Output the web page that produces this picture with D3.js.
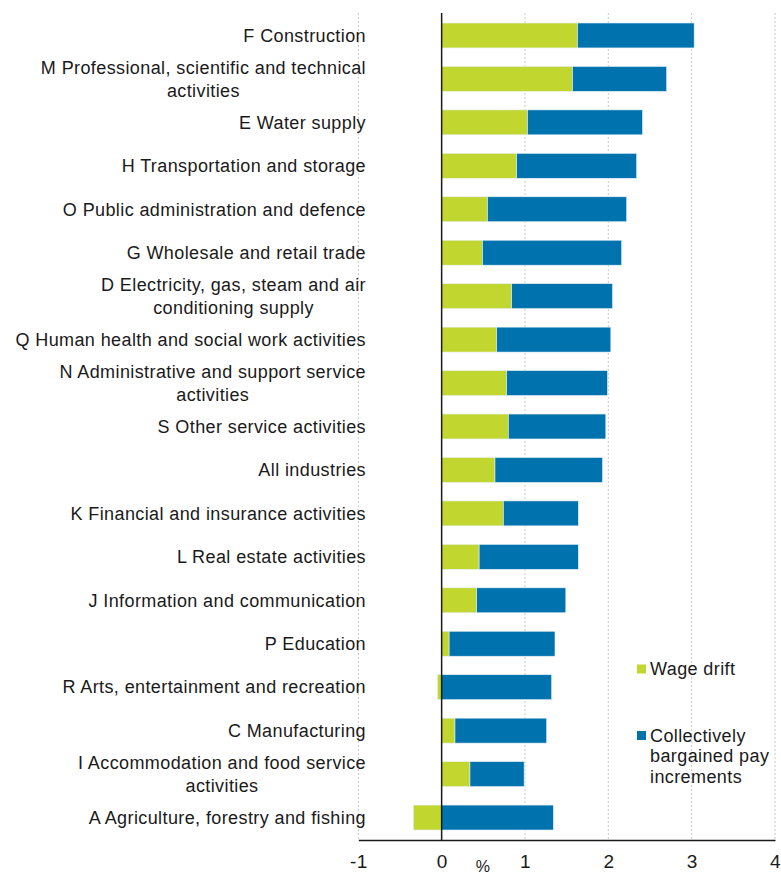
<!DOCTYPE html>
<html lang="en">
<head>
<meta charset="UTF-8">
<title>Wage drift and collectively bargained pay increments by industry</title>
<script src="https://d3js.org/d3.v7.min.js"></script>
<style>
    body { margin: 0; background: #fff; }
    text { font-family: "Liberation Sans", Arial, sans-serif; fill: #1a1a1a; }
    .cat { font-size: 18px; letter-spacing: 0.4px; }
    .legend { font-size: 18px; letter-spacing: 0.4px; }
    .axis text { font-size: 19px; letter-spacing: 0.3px; }
    .grid line { stroke: #c8c8c8; stroke-dasharray: 2,2; }
</style>
</head>
<body>
<svg width="781" height="877"></svg>
<script>
// industries, top to bottom ("\n" = line break in the label)
const categories = [
    "F Construction",
    "M Professional, scientific and technical\nactivities",
    "E Water supply",
    "H Transportation and storage",
    "O Public administration and defence",
    "G Wholesale and retail trade",
    "D Electricity, gas, steam and air\nconditioning supply",
    "Q Human health and social work activities",
    "N Administrative and support service\nactivities",
    "S Other service activities",
    "All industries",
    "K Financial and insurance activities",
    "L Real estate activities",
    "J Information and communication",
    "P Education",
    "R Arts, entertainment and recreation",
    "C Manufacturing",
    "I Accommodation and food service\nactivities",
    "A Agriculture, forestry and fishing"
];
const wageDrift = [1.63, 1.57, 1.03, 0.90, 0.55, 0.49, 0.84, 0.66, 0.78, 0.80,
                   0.64, 0.74, 0.45, 0.42, 0.09, -0.05, 0.16, 0.34, -0.34];
const bargained = [1.40, 1.13, 1.38, 1.44, 1.67, 1.67, 1.21, 1.37, 1.21, 1.17,
                   1.29, 0.90, 1.19, 1.07, 1.27, 1.32, 1.10, 0.65, 1.34];
const seriesNames = ["Wage drift", "Collectively\nbargained pay\nincrements"];
const xTicks = [-1, 0, 1, 2, 3, 4];

const colors = ["#c1d72f", "#0072ae"];

const svg = d3.select("svg");
const plotTop = 13, plotBottom = 840;

const x = d3.scaleLinear().domain([-1, 4]).range([358.3, 775]);
const y = d3.scaleBand().domain(categories).range([plotTop, plotBottom])
    .paddingInner(0.426).paddingOuter(0.23);

// gridlines
svg.append("g").attr("class", "grid")
    .selectAll("line").data(xTicks.filter(d => d !== 0)).join("line")
    .attr("x1", d => x(d)).attr("x2", d => x(d))
    .attr("y1", plotTop).attr("y2", plotBottom);

// stacked bars (negatives go left of zero)
const rows = categories.map((c, i) => ({ cat: c, w: wageDrift[i], b: bargained[i] }));
const stack = d3.stack().keys(["w", "b"]).offset(d3.stackOffsetDiverging);
const layers = stack(rows);

svg.append("g").selectAll("g").data(layers).join("g")
    .attr("fill", (d, i) => colors[i])
    .selectAll("rect").data(d => d).join("rect")
    .attr("x", d => x(Math.min(d[0], d[1])))
    .attr("width", d => Math.abs(x(d[1]) - x(d[0])))
    .attr("y", d => y(d.data.cat))
    .attr("height", y.bandwidth())
    .attr("stroke", "#e6f0f7").attr("stroke-width", 0.6);

// zero line
svg.append("line")
    .attr("x1", x(0)).attr("x2", x(0)).attr("y1", plotTop).attr("y2", plotBottom)
    .attr("stroke", "#1a1a1a").attr("stroke-width", 1.5);

// bottom axis
const axis = svg.append("g").attr("class", "axis")
    .attr("transform", `translate(0,${plotBottom})`)
    .call(d3.axisBottom(x).tickValues(xTicks).tickSize(0).tickPadding(15).tickFormat(d => String(d)));
axis.select(".domain").attr("stroke", "#1a1a1a").attr("stroke-width", 1.5);
axis.selectAll("text").attr("fill", "#1a1a1a");

svg.append("text").attr("class", "legend")
    .attr("x", 483).attr("y", 872).attr("text-anchor", "middle")
    .style("font-size", "16px").text("%");

// category labels, right aligned, wrapped lines centred on each other
const labelRight = 366, lineH = 22.7;
categories.forEach(c => {
    const lines = c.split("\n");
    const cy = y(c) + y.bandwidth() / 2;
    const t = svg.append("text").attr("class", "cat")
        .attr("text-anchor", lines.length > 1 ? "middle" : "end");
    const spans = lines.map((l, k) => t.append("tspan")
        .attr("y", cy + (k - (lines.length - 1) / 2) * lineH)
        .attr("dy", "0.35em").text(l));
    if (lines.length > 1) {
        const w = d3.max(spans, s => s.node().getComputedTextLength());
        spans.forEach(s => s.attr("x", labelRight - w / 2));
    } else {
        spans[0].attr("x", labelRight);
    }
});

// legend
const legendY = [669, 735.5];
seriesNames.forEach((name, i) => {
    svg.append("rect").attr("x", 637).attr("y", legendY[i] - 4.5)
        .attr("width", 9).attr("height", 9).attr("fill", colors[i]);
    const t = svg.append("text").attr("class", "legend");
    name.split("\n").forEach((l, k) => t.append("tspan")
        .attr("x", 650).attr("y", legendY[i] + k * 20.6).attr("dy", "0.35em").text(l));
});
</script>
</body>
</html>
